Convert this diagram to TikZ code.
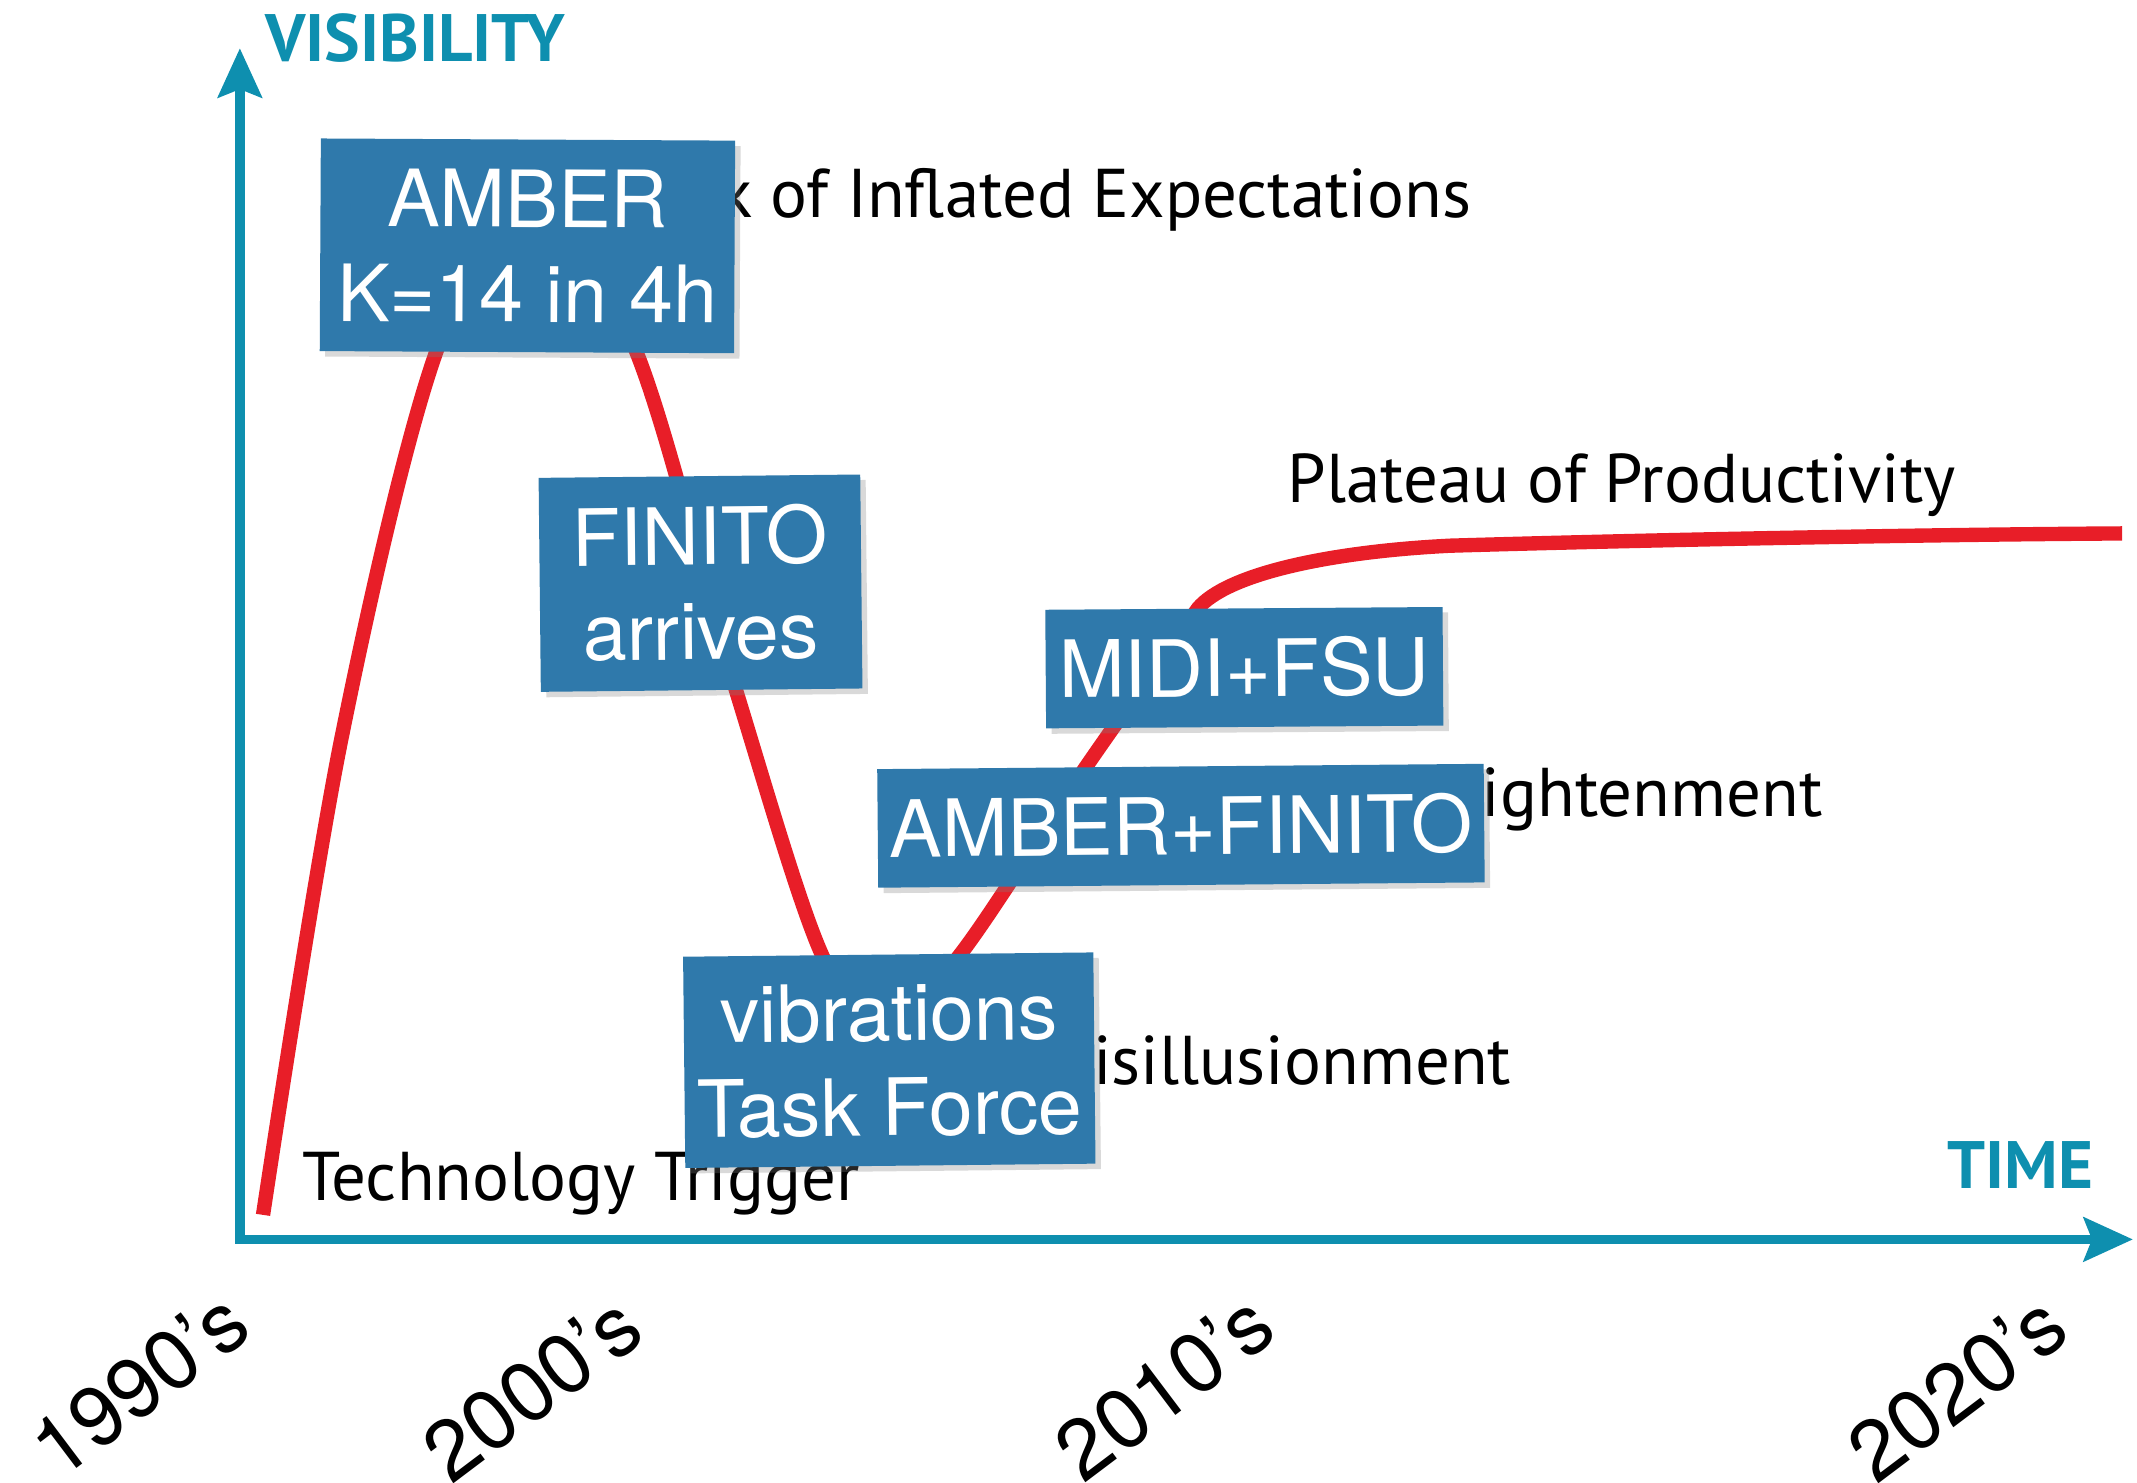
\documentclass[tikz,border=0pt]{standalone}
\usepackage{fontspec}
\setmainfont{TeX Gyre Heros}
\newfontfamily\phasefont{PT Sans}
\usetikzlibrary{arrows.meta,shadows}
\definecolor{notefill}{RGB}{47,121,171}
\definecolor{axisteal}{RGB}{14,143,175}
\definecolor{hypered}{RGB}{232,30,40}

\begin{document}
\begin{tikzpicture}[note/.style = {fill=notefill, text=white, align=center, inner sep=0pt, font=\fontsize{16.5}{19.8}\selectfont, drop shadow={shadow xshift=0.4mm, shadow yshift=-0.4mm, opacity=0.3}},
phase/.style = {font=\phasefont\fontsize{14.4}{17}\selectfont, inner sep=0pt},
axislabel/.style = {font=\phasefont\bfseries\fontsize{14}{16}\selectfont, text=axisteal, inner sep=0pt},
decade/.style = {font=\fontsize{17.5}{20}\selectfont, rotate=37, inner sep=0pt},
axis/.style = {draw=axisteal, line width=2pt, {Stealth[length=3.6mm, width=3.2mm, inset=0.6mm]}-{Stealth[length=3.6mm, width=3.2mm, inset=0.6mm]}},
curve/.style = {draw=hypered, line width=3pt}]
\useasboundingbox (0,0) rectangle (15.68,10.874);
% axes
\coordinate (origin) at (1.76,1.78);
\coordinate (ytip) at (1.76,10.52);
\coordinate (xtip) at (15.65,1.78);
\draw[axis] (ytip) -- (origin) -- (xtip);
\node[axislabel, anchor=base west] (visibility) at (1.94,10.42) {VISIBILITY};
\node[axislabel, anchor=base east] (time) at (15.365,2.156) {TIME};
% hype curve
\draw[curve] plot[smooth, tension=0.55] coordinates {(1.93,1.96) (2.50,5.43) (3.20,8.29) (3.93,9.45) (4.67,8.29) (5.40,5.81) (6.03,3.87) (6.50,3.35) (7.045,3.87) (7.97,5.25) (8.79,6.41)}
  .. controls (9.0,6.66) and (9.74,6.825) .. (10.64,6.87)
  .. controls (12.0,6.91) and (14.0,6.95) .. (15.57,6.96);
% phases
\node[phase, anchor=base east] (peak) at (10.80,9.28) {Peak of Inflated Expectations};
\node[phase, anchor=base west] (plateau) at (9.44,7.19) {Plateau of Productivity};
\node[phase, anchor=base east] (slope) at (13.38,4.88) {Slope of Enlightenment};
\node[phase, anchor=base east] (trough) at (11.095,2.92) {Trough of Disillusionment};
\node[phase, anchor=base west] (trigger) at (2.21,2.065) {Technology Trigger};
% notes
\node[note, minimum width=3.04cm, minimum height=1.56cm, rotate=-0.3] (amber) at (3.87,9.07) {AMBER\\K=14 in 4h};
\node[note, minimum width=2.36cm, minimum height=1.57cm, rotate=0.6] (finito) at (5.14,6.595) {FINITO\\arrives};
\node[note, minimum width=2.915cm, minimum height=0.87cm, rotate=0.4] (midi) at (9.13,5.975) {MIDI+FSU};
\node[note, minimum width=4.45cm, minimum height=0.87cm, rotate=0.5] (amberfinito) at (8.665,4.815) {AMBER+FINITO};
\node[note, minimum width=3.01cm, minimum height=1.55cm, rotate=0.6] (vibrations) at (6.525,3.095) {vibrations\\Task Force};
% decades
\node[decade] (d1990) at (1.02,0.72) {1990's};
\node[decade] (d2000) at (3.90,0.69) {2000's};
\node[decade] (d2010) at (8.54,0.70) {2010's};
\node[decade] (d2020) at (14.356,0.694) {2020's};
\end{tikzpicture}
\end{document}
